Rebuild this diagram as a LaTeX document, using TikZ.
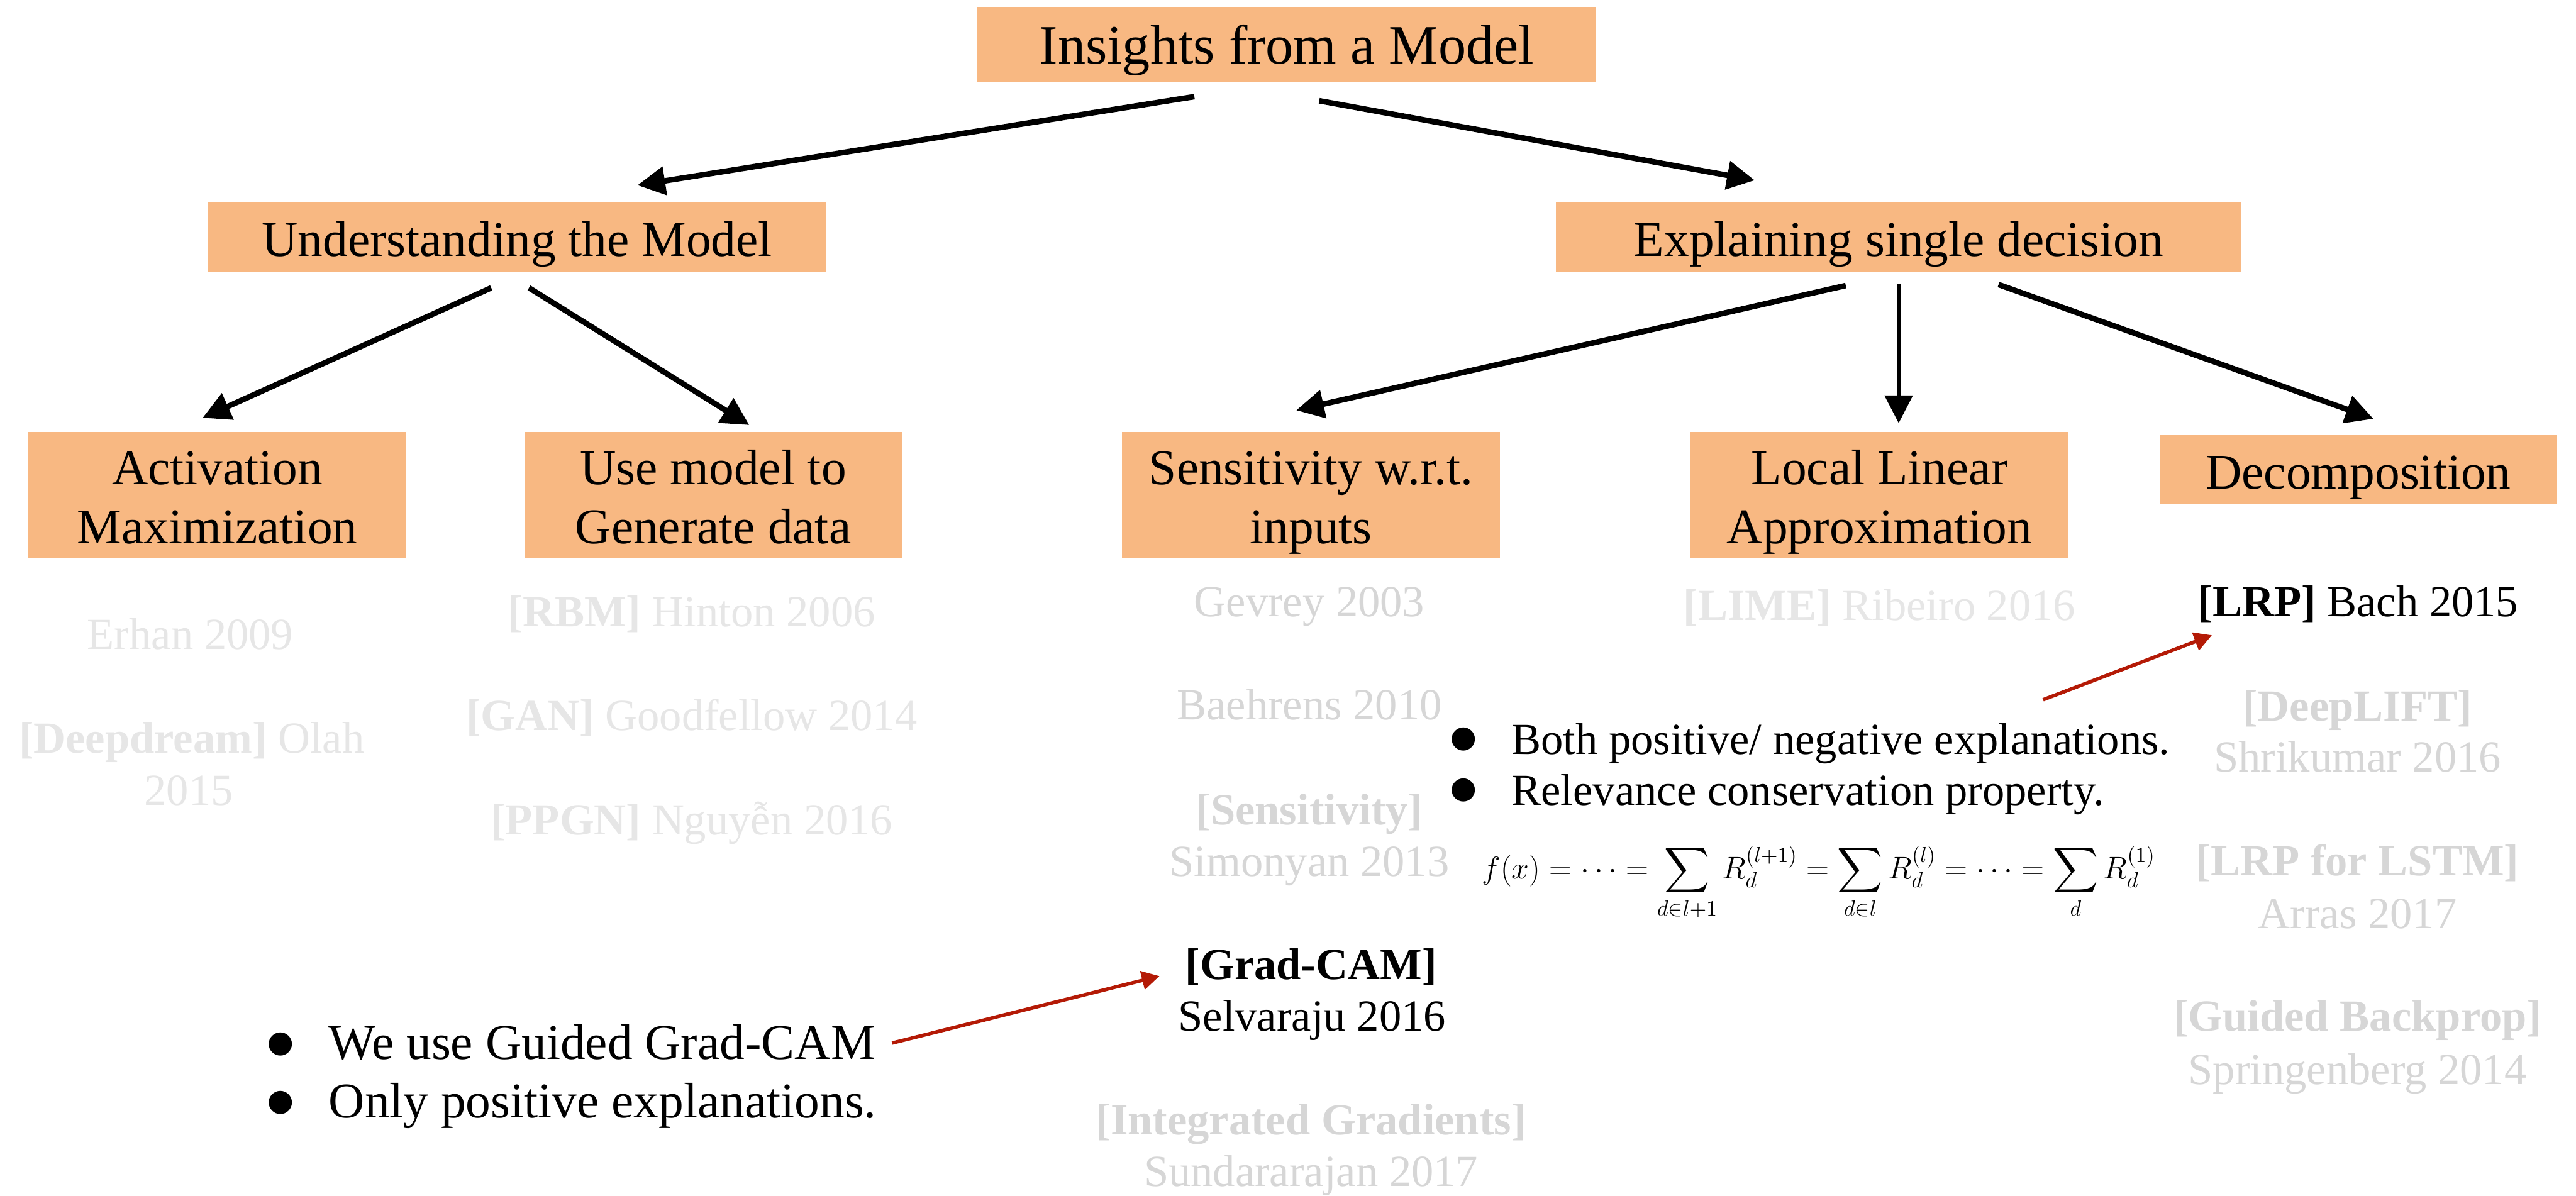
\documentclass[tikz,border=0pt]{standalone}
\usepackage{amsmath}
\usepackage{fontspec}
\setmainfont{Liberation Serif}
\usetikzlibrary{arrows.meta,calc}

\definecolor{boxorange}{HTML}{F8B882}
\definecolor{fadelight}{HTML}{E6E6E6}
\definecolor{fadegray}{HTML}{D6D6D6}
\definecolor{notered}{RGB}{180,26,6}

\newlength{\pxu}
\setlength{\pxu}{0.031224cm}
\newcommand{\boxfont}{\fontsize{27pt}{32pt}\selectfont}
\newcommand{\titlefont}{\fontsize{30pt}{34pt}\selectfont}
\newcommand{\reffont}{\fontsize{24pt}{28pt}\selectfont}
\newcommand{\notefont}{\fontsize{27pt}{32pt}\selectfont}
\newcommand{\eqfont}{\fontsize{17.28pt}{20pt}\selectfont}
\newcommand{\dotitem}[1]{\makebox[#1][l]{\scalebox{1.3}{$\bullet$}}}

\begin{document}
\begin{tikzpicture}[x = 0.031224cm, y = -0.031224cm,
	topic/.style = {fill = boxorange, inner sep = 0pt, minimum width = 230*\pxu, minimum height = 77*\pxu, align = center, font = \boxfont, text height = 20.4pt, text depth = 0pt},
	twoline/.style = {text height = 52.4pt},
	ref/.style = {anchor = base, inner sep = 0pt, font = \reffont},
	note/.style = {anchor = base west, inner sep = 0pt},
	branch/.style = {line width = 3pt, -{Triangle[length=15pt,width=15pt]}},
	pointer/.style = {draw = notered, line width = 1.9pt, -{Triangle[length=9.5pt,width=10pt]}}]
	\path [fill = white, use as bounding box] (0,0) rectangle (1568,728);

	\node [topic, minimum width = 376.4*\pxu, minimum height = 45.6*\pxu, font = \titlefont, text height = 21pt] (top) at (783.2,27.1) {Insights from a Model};
	\node [topic, minimum width = 376.3*\pxu, minimum height = 42.8*\pxu] (und) at (314.7,144.4) {Understanding the Model};
	\node [topic, minimum width = 417.4*\pxu, minimum height = 42.8*\pxu] (expl) at (1155.7,144.4) {Explaining single decision};
	\node [topic, twoline] (act) at (132.3,301.5) {Activation\\Maximization};
	\node [topic, twoline] (gen) at (434.1,301.5) {Use model to\\Generate data};
	\node [topic, twoline] (sens) at (798,301.5) {Sensitivity w.r.t.\\inputs};
	\node [topic, twoline] (lime) at (1144,301.5) {Local Linear\\Approximation};
	\node [topic, minimum width = 241*\pxu, minimum height = 42*\pxu] (dec) at (1435.5,286) {Decomposition};

	\draw [branch] ($(top.south)+(-56.2,8.7)$) -- ($(und.north)+(73.3,-10)$);
	\draw [branch] ($(top.south)+(19.8,11.2)$) -- ($(expl.north)+(-87.6,-13)$);
	\draw [branch] ($(und.south)+(-15.7,9.2)$) -- ($(act.north)+(-9,-8.4)$);
	\draw [branch] ($(und.south)+(7.3,9.2)$) -- ($(gen.north)+(22,-4)$);
	\draw [branch] ($(expl.south)+(-32.2,7.8)$) -- ($(sens.north)+(-9,-13)$);
	\draw [branch, line width = 1.8pt] ($(expl.south)+(0,6.6)$) -- ($(expl.south |- lime.north)+(0,-5.2)$);
	\draw [branch] ($(expl.south)+(60.8,7.2)$) -- ($(dec.north)+(9.2,-9.8)$);

	\node [ref, text = fadelight] (erhan) at (115.8,395.3) {Erhan 2009};
	\node [ref, text = fadelight] (dream) at (116.7,458.3) {\textbf{[Deepdream]} Olah};
	\node [ref, text = fadelight] (dreamyr) at (114.9,490) {2015};
	\node [ref, text = fadelight] (rbm) at (421,381.6) {\textbf{[RBM]} Hinton 2006};
	\node [ref, text = fadelight] (gan) at (421,444.8) {\textbf{[GAN]} Goodfellow 2014};
	\node [ref, text = fadelight] (ppgn) at (421,508) {\textbf{[PPGN]} Nguyễn 2016};

	\node [ref, text = fadegray] (gevrey) at (797,375.3) {Gevrey 2003};
	\node [ref, text = fadegray] (baehrens) at (797,438) {Baehrens 2010};
	\node [ref, text = fadegray] (sensref) at (797,502) {\textbf{[Sensitivity]}};
	\node [ref, text = fadegray] (simonyan) at (797,533.5) {Simonyan 2013};
	\node [ref] (gcam) at (798,596.2) {\textbf{[Grad-CAM]}};
	\node [ref] (selva) at (798.6,627.7) {Selvaraju 2016};
	\node [ref, text = fadegray] (intgrad) at (798,690.7) {\textbf{[Integrated Gradients]}};
	\node [ref, text = fadegray] (sundar) at (798,722.2) {Sundararajan 2017};

	\node [ref, text = fadelight] (limeref) at (1144,377.6) {\textbf{[LIME]} Ribeiro 2016};

	\node [ref] (lrp) at (1435.3,375.3) {\textbf{[LRP]} Bach 2015};
	\node [ref, text = fadegray] (deeplift) at (1435,439) {\textbf{[DeepLIFT]}};
	\node [ref, text = fadegray] (shrik) at (1435,470) {Shrikumar 2016};
	\node [ref, text = fadegray] (lstm) at (1435,533) {\textbf{[LRP for LSTM]}};
	\node [ref, text = fadegray] (arras) at (1435,565.3) {Arras 2017};
	\node [ref, text = fadegray] (gbp) at (1435,627.6) {\textbf{[Guided Backprop]}};
	\node [ref, text = fadegray] (springen) at (1435,660) {Springenberg 2014};

	\node [note, font = \notefont] (gcuse) at (161.6,644.8) {\dotitem{34pt}We use Guided Grad-CAM};
	\node [note, font = \notefont] (gcpos) at (161.6,680.6) {\dotitem{34pt}Only positive explanations.};
	\node [note, font = \reffont] (lrpsign) at (881.6,459) {\dotitem{34pt}Both positive/ negative explanations.};
	\node [note, font = \reffont] (lrpcons) at (881.6,490.2) {\dotitem{34pt}Relevance conservation property.};
	\node [note, font = \eqfont] (cons) at (902,534.8) {\resizebox{364pt}{!}{$\displaystyle f(x)=\cdots=\sum_{d\in l+1}R_d^{(l+1)}=\sum_{d\in l}R_d^{(l)}=\cdots=\sum_{d}R_d^{(1)}$}};

	\draw [pointer] ($(gcuse.base east)+(10,-9.8)$) -- ($(gcam.base west)+(-15.5,-2)$);
	\draw [pointer] ($(lrpsign.base east)+(-77.4,-33)$) -- ($(lrp.base west)+(8.8,11.4)$);
\end{tikzpicture}
\end{document}
